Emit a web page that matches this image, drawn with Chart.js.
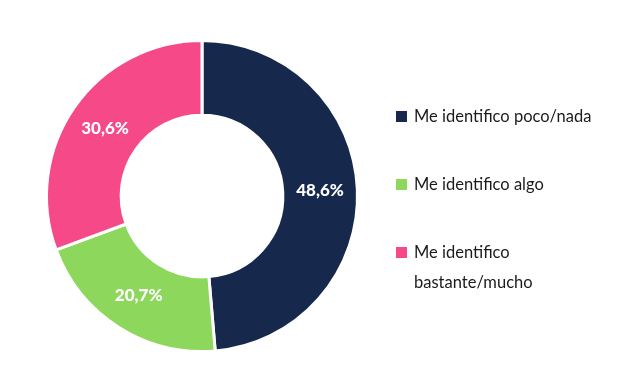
<!DOCTYPE html>
<html lang="es">
<head>
  <meta charset="UTF-8" />
  <title>Identificación</title>
  <script src="https://cdn.jsdelivr.net/npm/chart.js"></script>
  <style>
    body { margin: 0; background: #fff; font-family: 'Lato', 'Noto Sans', sans-serif; }
    .wrap { position: relative; width: 627px; height: 387px; }
    canvas { position: absolute; left: 0; top: 0; }
    .legend { position: absolute; left: 396px; top: 101px; list-style: none; margin: 0; padding: 0; }
    .legend li { position: relative; padding-left: 18px; font-size: 16.5px; line-height: 30px; color: #1b1b1b; margin-bottom: 38px; }
    .legend li span.box { position: absolute; left: 0; top: 10px; width: 11px; height: 11px; }
  </style>
</head>
<body>
  <div class="wrap">
    <canvas id="dona" width="627" height="387"></canvas>
    <ul class="legend" id="leyenda"></ul>
  </div>

  <script>
    const categorias = ['Me identifico poco/nada', 'Me identifico algo', 'Me identifico bastante/mucho'];
    const lineasLeyenda = [['Me identifico poco/nada'], ['Me identifico algo'], ['Me identifico', 'bastante/mucho']];
    const valores = [48.6, 20.7, 30.6];
    const colores = ['#16294d', '#8dd75c', '#f54a87'];

    // leyenda en HTML
    const ul = document.getElementById('leyenda');
    lineasLeyenda.forEach((lineas, i) => {
      const li = document.createElement('li');
      li.innerHTML = '<span class="box" style="background:' + colores[i] + '"></span>' + lineas.join('<br>');
      ul.appendChild(li);
    });

    // etiquetas de porcentaje sobre cada sector
    const etiquetas = {
      id: 'etiquetas',
      afterDatasetsDraw(chart) {
        const ctx = chart.ctx;
        const meta = chart.getDatasetMeta(0);
        ctx.save();
        ctx.fillStyle = '#fff';
        ctx.font = '900 17px Lato, "Noto Sans", sans-serif';
        ctx.textAlign = 'center';
        ctx.textBaseline = 'middle';
        meta.data.forEach((arc, i) => {
          const p = arc.getCenterPoint();
          ctx.fillText(valores[i].toFixed(1).replace('.', ',') + '%', p.x, p.y);
        });
        ctx.restore();
      }
    };

    new Chart(document.getElementById('dona'), {
      type: 'doughnut',
      data: {
        labels: categorias,
        datasets: [{
          data: valores,
          backgroundColor: colores,
          borderColor: '#fff',
          borderWidth: 3
        }]
      },
      options: {
        responsive: false,
        animation: false,
        cutout: '52%',
        layout: { padding: { left: 45, right: 268, top: 39, bottom: 34 } },
        plugins: {
          legend: { display: false },
          tooltip: { enabled: false }
        }
      },
      plugins: [etiquetas]
    });
  </script>
</body>
</html>
